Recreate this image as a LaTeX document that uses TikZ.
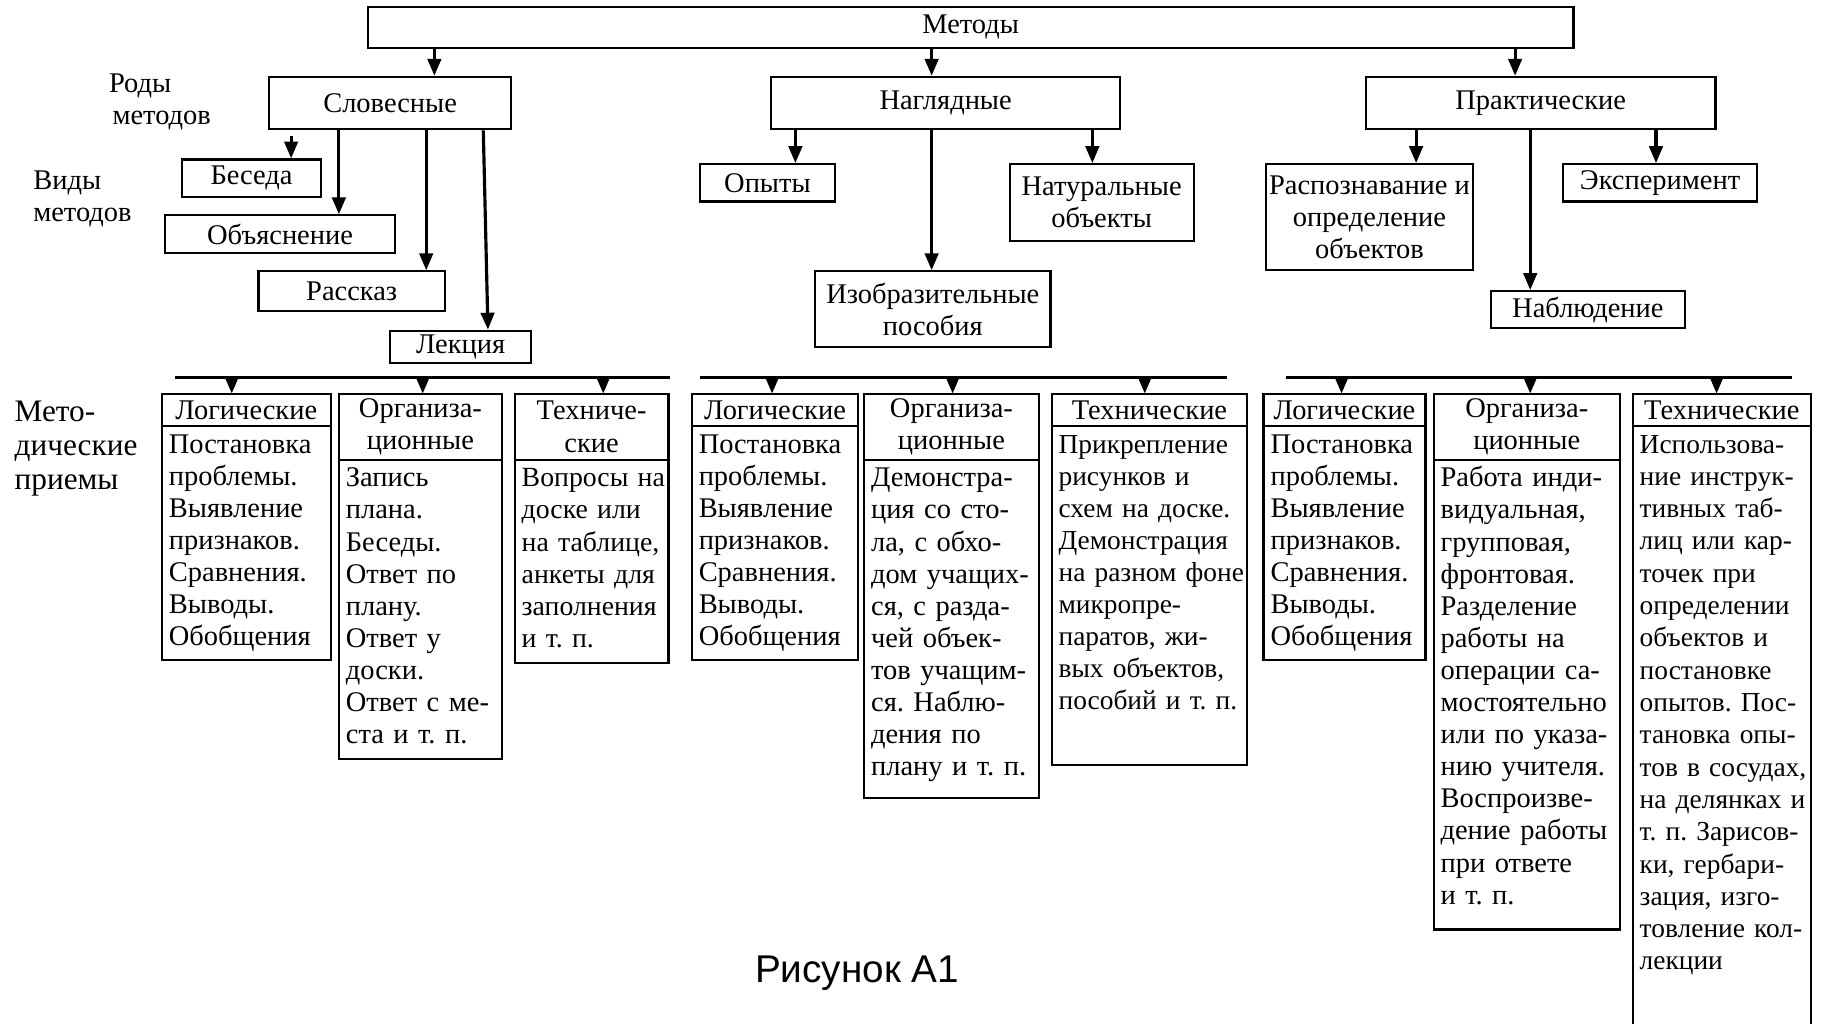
\documentclass[tikz,border=0pt]{standalone}
\usepackage{fontspec}
\setmainfont{Liberation Serif}
\newfontfamily\capfont{Liberation Sans}
\usetikzlibrary{arrows.meta}
\frenchspacing
\exhyphenpenalty=10000

\begin{document}
\begin{tikzpicture}[x=0.011645cm, y=-0.011645cm,
    every node/.style={font=\fontsize{8.1}{9.13}\selectfont},
    box/.style={draw, line width=0.6pt, inner sep=0pt, align=center},
    hdr/.style={draw, line width=0.6pt, anchor=north west, align=center, inner xsep=0.07cm, inner ysep=0pt, outer sep=0pt},
    body/.style={draw, line width=0.6pt, anchor=north west, align=left, inner xsep=0.07cm, inner ysep=0pt, outer sep=0pt, text height=0.268cm},
    arr/.style={-{Triangle[length=4.8pt,width=3.8pt]}, line width=0.9pt},
    bar/.style={line width=0.9pt},
    lbl/.style={anchor=west, align=left, inner sep=0pt}]
            \useasboundingbox (0,0) rectangle (1568,879);
            \clip (0,0) rectangle (1568,879);

            \node[box, minimum width=12.053cm, minimum height=0.408cm] (metody) at (833.5,23.5) {Методы};
            \node[box, minimum width=2.422cm, minimum height=0.524cm] (slov) at (335,88.5) {Словесные};
            \node[box, minimum width=3.494cm, minimum height=0.524cm] (nagl) at (812,88.5) {Наглядные};
            \node[box, minimum width=3.494cm, minimum height=0.524cm] (prakt) at (1323,88.5) {Практические};

            \draw[arr] (373,0 |- metody.south) -- (373,0 |- slov.north);
            \draw[arr] (800,0 |- metody.south) -- (800,0 |- nagl.north);
            \draw[arr] (1301,0 |- metody.south) -- (1301,0 |- prakt.north);

            \node[lbl] (rody) at (93,87.5) {Роды\\\hspace*{1pt}методов};
            \node[lbl] (vidy) at (28,171) {Виды\\методов};
            \node[lbl, font=\fontsize{8.9}{9.6}\selectfont] (priemy) at (12,385) {Мето-\\дические\\приемы};

            \node[box, minimum width=1.397cm, minimum height=0.373cm] (beseda) at (216,153) {Беседа};
            \node[box, minimum width=2.294cm, minimum height=0.373cm] (obyasn) at (240.5,201) {Объяснение};
            \node[box, minimum width=1.863cm, minimum height=0.396cm] (rasskaz) at (302,250) {Рассказ};
            \node[box, minimum width=1.409cm, minimum height=0.326cm] (lekciya) at (395.5,298) {Лекция};

            \coordinate (besedain) at (250,117);
            \draw[arr] (besedain) -- (250,0 |- beseda.north);
            \draw[arr] (291,0 |- slov.south) -- (291,0 |- obyasn.north);
            \draw[arr] (366,0 |- slov.south) -- (366,0 |- rasskaz.north);
            \draw[arr] (415,0 |- slov.south) -- (419,0 |- lekciya.north);

            \node[box, minimum width=1.351cm, minimum height=0.373cm] (opyty) at (659,157) {Опыты};
            \node[box, minimum width=1.840cm, minimum height=0.769cm] (natur) at (946,174) {Натуральные\\объекты};
            \node[box, minimum width=2.352cm, minimum height=0.757cm] (izobr) at (801,265.5) {Изобразительные\\пособия};

            \draw[arr] (683,0 |- nagl.south) -- (683,0 |- opyty.north);
            \draw[arr] (938,0 |- nagl.south) -- (938,0 |- natur.north);
            \draw[arr] (800,0 |- nagl.south) -- (800,0 |- izobr.north);

            \node[box, minimum width=2.073cm, minimum height=1.060cm] (raspozn) at (1176,186.5) {Распознавание~и\\определение\\объектов};
            \node[box, minimum width=1.945cm, minimum height=0.373cm] (eksper) at (1425.5,157) {Эксперимент};
            \node[box, minimum width=1.945cm, minimum height=0.373cm] (nabl) at (1363.5,266) {Наблюдение};

            \draw[arr] (1216,0 |- prakt.south) -- (1216,0 |- raspozn.north);
            \draw[arr] (1422,0 |- prakt.south) -- (1422,0 |- eksper.north);
            \draw[arr] (1314,0 |- prakt.south) -- (1314,0 |- nabl.north);

            % first group
            \node[hdr, text width=1.549cm, minimum height=0.326cm] (log1) at (139,338) {Логические};
            \node[body, text width=1.549cm, text depth=2.073cm] (log1b) at (log1.south west) {Постановка\\проблемы.\\Выявление\\признаков.\\Сравнения.\\Выводы.\\Обобщения};
            \node[hdr, text width=1.491cm, minimum height=0.664cm] (org1) at (291,338) {Организа-\\ционные};
            \node[body, text width=1.491cm, text depth=2.725cm] (org1b) at (org1.south west) {Запись\\плана.\\Беседы.\\Ответ~по\\плану.\\Ответ~у\\доски.\\Ответ~с~ме-\\ста~и~т.~п.};
            \node[hdr, text width=1.397cm, minimum height=0.664cm] (teh1) at (442,338) {Техниче-\\ские};
            \node[body, text width=1.397cm, text depth=1.758cm, font=\fontsize{7.9}{9.13}\selectfont] (teh1b) at (teh1.south west) {Вопросы~на\\доске~или\\на~таблице,\\анкеты~для\\заполнения\\и~т.~п.};

            \coordinate (bar1w) at (150,324);
            \coordinate (bar1e) at (575,324);
            \draw[bar] (bar1w) -- (bar1e);
            \draw[arr] (199,0 |- bar1w) -- (199,0 |- log1.north);
            \draw[arr] (363,0 |- bar1w) -- (363,0 |- org1.north);
            \draw[arr] (518,0 |- bar1w) -- (518,0 |- teh1.north);

            % second group
            \node[hdr, text width=1.525cm, minimum height=0.326cm] (log2) at (594,338) {Логические};
            \node[body, text width=1.525cm, text depth=2.073cm] (log2b) at (log2.south west) {Постановка\\проблемы.\\Выявление\\признаков.\\Сравнения.\\Выводы.\\Обобщения};
            \node[hdr, text width=1.607cm, minimum height=0.664cm] (org2) at (742,338) {Организа-\\ционные};
            \node[body, text width=1.607cm, text depth=3.109cm] (org2b) at (org2.south west) {Демонстра-\\ция~со~сто-\\ла,~с~обхо-\\дом~учащих-\\ся,~с~разда-\\чей~объек-\\тов~учащим-\\ся.~Наблю-\\дения~по\\плану~и~т.~п.};
            \node[hdr, text width=1.817cm, minimum height=0.326cm] (teh2) at (903,338) {Технические};
            \node[body, text width=1.817cm, text depth=3.121cm, font=\fontsize{7.8}{9.13}\selectfont] (teh2b) at (teh2.south west) {Прикрепление\\рисунков~и\\схем~на~доске.\\Демонстрация\\на~разном~фоне\\микропре-\\паратов,~жи-\\вых~объектов,\\пособий~и~т.~п.};

            \coordinate (bar2w) at (601,324);
            \coordinate (bar2e) at (1054,324);
            \draw[bar] (bar2w) -- (bar2e);
            \draw[arr] (663,0 |- bar2w) -- (663,0 |- log2.north);
            \draw[arr] (818,0 |- bar2w) -- (818,0 |- org2.north);
            \draw[arr] (983,0 |- bar2w) -- (983,0 |- teh2.north);

            % third group
            \node[hdr, text width=1.479cm, minimum height=0.326cm] (log3) at (1085,338) {Логические};
            \node[body, text width=1.479cm, text depth=2.073cm] (log3b) at (log3.south west) {Постановка\\проблемы.\\Выявление\\признаков.\\Сравнения.\\Выводы.\\Обобщения};
            \node[hdr, text width=1.723cm, minimum height=0.664cm] (org3) at (1231,338) {Организа-\\ционные};
            \node[body, text width=1.723cm, text depth=4.425cm] (org3b) at (org3.south west) {Работа~инди-\\видуальная,\\групповая,\\фронтовая.\\Разделение\\работы~на\\операции~са-\\мостоятельно\\или~по~указа-\\нию~учителя.\\Воспроизве-\\дение~работы\\при~ответе\\и~т.~п.};
            \node[hdr, text width=1.642cm, minimum height=0.326cm] (teh3) at (1402,338) {Технические};
            \node[body, text width=1.642cm, text depth=7.115cm, font=\fontsize{7.8}{9.19}\selectfont] (teh3b) at (teh3.south west) {Использова-\\ние~инструк-\\тивных~таб-\\лиц~или~кар-\\точек~при\\определении\\объектов~и\\постановке\\опытов.~Пос-\\тановка~опы-\\тов~в~сосудах,\\на~делянках~и\\т.~п.~Зарисов-\\ки,~гербари-\\зация,~изго-\\товление~кол-\\лекции};

            \coordinate (bar3w) at (1104,324);
            \coordinate (bar3e) at (1539,324);
            \draw[bar] (bar3w) -- (bar3e);
            \draw[arr] (1152,0 |- bar3w) -- (1152,0 |- log3.north);
            \draw[arr] (1314,0 |- bar3w) -- (1314,0 |- org3.north);
            \draw[arr] (1474,0 |- bar3w) -- (1474,0 |- teh3.north);

            \node[font=\capfont\fontsize{11}{13}\selectfont] (caption) at (736,836) {Рисунок А1};
        \end{tikzpicture}
\end{document}
